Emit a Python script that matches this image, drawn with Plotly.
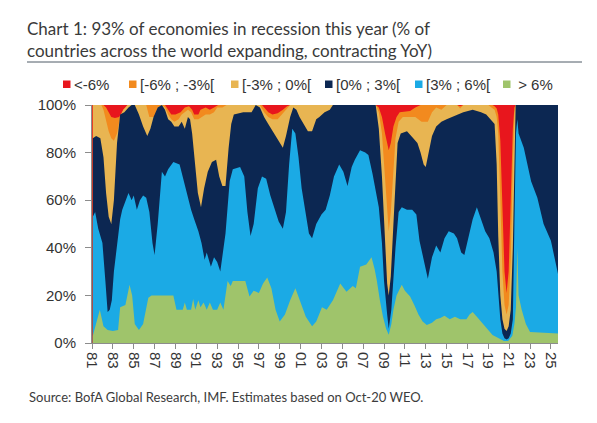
import plotly.graph_objects as go

# ---------------- data (share of countries, %, cumulative from the top of each growth bucket) -------------
# % of countries with YoY growth > 6%
years_gt6 = [1981.08, 1981.4, 1981.75, 1982.1, 1982.5, 1983.0, 1983.5, 1983.7, 1984.2, 1984.6,
             1984.85, 1985.1, 1985.5, 1985.9, 1986.4, 1986.7, 1988.8, 1989.1, 1989.7, 1989.9,
             1990.1, 1990.5, 1990.7, 1990.9, 1991.2, 1991.4, 1991.7, 1992.0, 1992.3, 1992.6,
             1993.0, 1993.3, 1993.6, 1994.0, 1994.3, 1994.5, 1995.7, 1996.1, 1996.5, 1997.0,
             1997.4, 1997.8, 1998.2, 1998.6, 1999.0, 1999.5, 2000.0, 2000.5, 2001.0, 2001.5,
             2002.1, 2002.5, 2003.05, 2003.5, 2004.1, 2004.8, 2005.4, 2006.0, 2006.3, 2006.7,
             2007.3, 2007.8, 2008.1, 2008.3, 2008.6, 2008.9, 2009.2, 2009.45, 2009.7, 2009.9,
             2010.2, 2010.7, 2011.0, 2011.5, 2011.9, 2012.3, 2012.7, 2013.1, 2013.6, 2014.0,
             2014.4, 2014.8, 2015.3, 2015.8, 2016.3, 2016.9, 2017.2, 2017.5, 2017.9, 2018.4,
             2018.9, 2019.4, 2020.0, 2020.5, 2020.9, 2021.3, 2021.5, 2021.65, 2021.78, 2021.9,
             2022.2, 2022.6, 2023.0, 2025.68]
pct_gt6 = [3, 8, 14, 7, 5.5, 5, 5.5, 15, 16, 24.5,
           20, 8, 5.5, 8, 19, 20, 20, 14, 14, 17,
           14, 14, 18.5, 14, 18, 15, 17, 14, 17, 14,
           14, 17, 14, 26, 24, 26, 26, 19.5, 22, 21,
           25, 27.5, 23, 14, 9, 12, 18, 23, 17, 11,
           7, 9, 15, 14, 18, 25, 21.5, 24, 23, 32,
           33, 36, 31, 26.5, 18, 11, 6, 3.5, 8, 14,
           20, 24.5, 22, 19.5, 16, 12, 9, 7.6, 8.5, 10,
           10.5, 11.5, 10, 11, 10, 10, 12, 13, 11, 8.4,
           6, 3.4, 2, 0.8, 0.8, 3, 8, 15, 40, 20,
           14, 8, 4.6, 4]

# % of countries with YoY growth >= 3%
years_gt3 = [1981.08, 1981.3, 1981.6, 1982.0, 1982.3, 1982.5, 1982.7, 1982.9, 1983.1, 1983.4,
             1983.7, 1983.9, 1984.2, 1984.5, 1984.8, 1985.0, 1985.3, 1985.6, 1985.9, 1986.2,
             1986.5, 1986.8, 1987.0, 1987.3, 1987.7, 1988.0, 1988.3, 1988.8, 1989.4, 1989.8,
             1990.1, 1990.5, 1990.8, 1991.2, 1991.5, 1991.8, 1992.0, 1992.4, 1992.7, 1993.0,
             1993.3, 1993.6, 1993.8, 1994.2, 1994.5, 1995.2, 1995.6, 1995.9, 1996.2, 1996.5,
             1996.9, 1997.3, 1997.7, 1998.1, 1998.5, 1998.9, 1999.3, 1999.6, 1999.9, 2000.2,
             2000.5, 2000.8, 2001.1, 2001.5, 2001.8, 2002.1, 2002.5, 2003.0, 2003.4, 2003.8,
             2004.2, 2004.7, 2005.1, 2005.5, 2005.9, 2006.2, 2006.7, 2007.2, 2007.5, 2007.9,
             2008.2, 2008.5, 2008.8, 2009.0, 2009.3, 2009.45, 2009.7, 2009.9, 2010.1, 2010.4,
             2010.7, 2011.2, 2011.7, 2012.1, 2012.4, 2012.8, 2013.2, 2013.6, 2014.0, 2014.4,
             2014.8, 2015.2, 2015.7, 2016.0, 2016.4, 2016.7, 2017.1, 2017.5, 2017.9, 2018.3,
             2018.7, 2019.1, 2019.5, 2019.8, 2019.95, 2020.15, 2020.35, 2020.55, 2020.75, 2020.95,
             2021.15, 2021.35, 2021.5, 2021.65, 2021.78, 2021.9, 2022.4, 2022.8, 2023.1, 2023.7,
             2024.3, 2025.0, 2025.3, 2025.68]
pct_gt3 = [53, 55, 48, 42, 25, 13, 14, 18, 30, 40,
           52, 56, 60, 63, 60, 62, 56, 60, 62, 61,
           55, 42, 37, 50, 72, 70, 73, 76, 75, 68,
           62, 56, 52, 47, 42, 35, 38, 32, 36, 34,
           30, 40, 46, 68, 73, 74, 70, 55, 45, 50,
           65, 70, 69, 62, 56, 51, 48, 55, 75, 90,
           88, 78, 65, 55, 46, 44, 50, 54, 56, 62,
           70, 75, 72, 66, 74, 77, 81, 80, 79, 71,
           64, 57, 42, 26, 12, 6, 14, 28, 40, 55,
           57, 56, 56, 54, 43, 35, 27, 36, 41, 38,
           44, 47, 46, 44, 38, 37, 44, 52, 57, 52,
           47, 44, 38, 30, 20, 10, 4, 2, 1.5, 2,
           4, 10, 50, 88, 94, 88, 82, 74, 68, 61,
           50, 43, 37, 29]

# % of countries with YoY growth >= 0%
years_gt0 = [1981.08, 1981.4, 1981.8, 1982.1, 1982.35, 1982.6, 1982.85, 1983.1, 1983.4, 1983.7,
             1984.1, 1984.5, 1984.8, 1985.1, 1985.5, 1985.9, 1986.3, 1986.6, 1986.9, 1987.3,
             1987.7, 1988.0, 1988.3, 1988.6, 1988.9, 1989.3, 1989.6, 1989.9, 1990.2, 1990.4,
             1990.6, 1990.85, 1991.15, 1991.45, 1991.75, 1992.1, 1992.5, 1992.9, 1993.2, 1993.5,
             1993.8, 1994.1, 1994.35, 1994.6, 1995.5, 1996.3, 1996.7, 1997.1, 1997.5, 1997.9,
             1998.3, 1998.7, 1999.0, 1999.3, 1999.6, 2000.0, 2000.3, 2000.6, 2000.9, 2001.3,
             2001.7, 2002.1, 2002.5, 2002.8, 2003.3, 2003.8, 2004.1, 2008.2, 2008.5, 2008.8,
             2009.1, 2009.3, 2009.45, 2009.65, 2009.9, 2010.1, 2010.3, 2010.6, 2011.2, 2011.8,
             2012.2, 2012.5, 2012.8, 2013.0, 2013.3, 2013.6, 2014.0, 2014.5, 2015.0, 2015.5,
             2016.0, 2016.6, 2017.5, 2018.3, 2018.8, 2019.2, 2019.6, 2019.8, 2019.95, 2020.15,
             2020.35, 2020.55, 2020.75, 2020.95, 2021.15, 2021.35, 2021.5, 2021.62, 2025.68]
pct_gt0 = [86, 87, 86, 78, 63, 53, 50, 60, 84, 96,
           97, 99, 100, 100, 96, 91, 87, 90, 95, 99,
           100, 98, 94, 93, 91, 91, 93, 90, 95, 94,
           88, 75, 63, 57, 65, 72, 76, 77, 70, 66,
           66, 82, 92, 96, 97, 97, 100, 99, 95, 92,
           89, 86, 84, 82, 87, 95, 99, 98, 95, 92,
           89, 89, 94, 95, 97, 98, 100, 100, 90, 70,
           40, 25, 20, 28, 50, 70, 84, 88, 89, 86,
           84, 80, 75, 74, 80, 87, 91, 93, 94, 95,
           96, 97, 98, 97, 96, 94, 92, 75, 45, 20,
           10, 6, 5, 7, 14, 40, 85, 100, 100]

# % of countries with YoY growth >= -3%
years_gtm3 = [1981.08, 1981.9, 1982.1, 1982.35, 1982.6, 1982.85, 1983.1, 1983.4, 1983.7, 1984.0,
              1984.4, 1986.2, 1986.5, 1987.0, 1987.3, 1987.7, 1988.0, 1988.3, 1988.6, 1988.9,
              1989.3, 1989.6, 1989.9, 1990.2, 1990.5, 1990.8, 1991.2, 1991.5, 1991.9, 1992.3,
              1992.7, 1993.0, 1993.5, 1993.9, 1997.1, 1997.5, 1997.9, 1998.3, 1998.8, 1999.2,
              1999.6, 2000.0, 2008.2, 2008.5, 2008.8, 2009.1, 2009.3, 2009.45, 2009.65, 2009.9,
              2010.1, 2010.4, 2010.8, 2011.5, 2012.0, 2012.6, 2013.2, 2013.6, 2014.0, 2014.5,
              2015.0, 2016.0, 2016.3, 2016.6, 2019.0, 2019.3, 2019.6, 2019.8, 2019.95, 2020.15,
              2020.35, 2020.55, 2020.75, 2020.95, 2021.15, 2021.35, 2021.5, 2021.62, 2025.68]
pct_gtm3 = [100, 100, 98, 93, 89, 86, 85, 88, 95, 98,
            100, 100, 95, 95, 99, 100, 99, 96, 94, 93,
            94, 96, 97, 98, 97, 94, 94, 95, 96, 96,
            97, 99, 99, 100, 100, 97, 95, 94, 94, 96,
            98, 100, 100, 97, 88, 70, 55, 47, 55, 75,
            86, 93, 95, 95, 95, 93, 93, 97, 99, 98,
            100, 100, 98.5, 100, 100, 99, 98, 95, 88, 60,
            30, 16, 12, 16, 35, 75, 96, 100, 100]

# % of countries with YoY growth >= -6%
years_gtm6 = [1981.08, 1982.1, 1982.35, 1982.6, 1982.85, 1983.2, 1983.6, 1984.0, 1984.3, 1984.5,
              1988.0, 1988.3, 1988.6, 1989.0, 1989.5, 1989.9, 1990.3, 1990.6, 1990.8, 1991.2,
              1991.4, 1991.9, 1992.3, 1992.7, 1993.1, 1997.3, 1997.6, 1997.9, 1998.3, 1998.8,
              1999.3, 1999.7, 2000.0, 2008.2, 2008.5, 2008.8, 2009.1, 2009.3, 2009.45, 2009.65,
              2009.9, 2010.2, 2010.5, 2011.5, 2012.0, 2012.5, 2016.0, 2016.3, 2016.6, 2019.4,
              2019.6, 2019.8, 2019.95, 2020.15, 2020.35, 2020.55, 2020.75, 2020.95, 2021.15, 2021.35,
              2021.5, 2021.62, 2025.68]
pct_gtm6 = [100, 100, 99, 97, 95, 94.5, 95, 98, 99, 100,
            100, 98, 96, 96, 97, 99, 99.5, 98, 96, 96,
            98, 99, 98, 99, 100, 100, 98.5, 97, 96, 96.5,
            98, 99.5, 100, 100, 99, 95, 88, 83, 81, 84,
            91, 95, 97, 97.5, 99, 100, 100, 99.5, 100, 100,
            99.5, 98.5, 96, 85, 55, 30, 21, 30, 60, 90,
            99, 100, 100]

# all countries (the remainder above the -6% line is the "<-6%" bucket)
years_all = [1981.0, 2025.68]
pct_all = [100, 100]

series_names = ["<-6%", "[-6% ; -3%[", "[-3% ; 0%[", "[0% ; 3%[", "[3% ; 6%[", "> 6%"]
series_colors = ["#E8161D", "#F28A1E", "#E8B552", "#0C2752", "#1BAAE5", "#9FC46B"]

tick_years = [1981, 1983, 1985, 1987, 1989, 1991, 1993, 1995, 1997, 1999, 2001, 2003,
              2005, 2007, 2009, 2011, 2013, 2015, 2017, 2019, 2021, 2023, 2025]
tick_labels = ["81", "83", "85", "87", "89", "91", "93", "95", "97", "99", "01", "03",
               "05", "07", "09", "11", "13", "15", "17", "19", "21", "23", "25"]
y_ticks = [0, 20, 40, 60, 80, 100]
y_labels = ["0%", "20%", "40%", "60%", "80%", "100%"]

# ---------------- figure ----------------
W, H = 597, 423
L, R, T, B = 92, 39, 105, 80
PW, PH = W - L - R, H - T - B


def px_x(p):
    return (p - L) / PW


def px_y(p):
    return (H - B - p) / PH


layers = [
    (years_all, pct_all),
    (years_gtm6, pct_gtm6),
    (years_gtm3, pct_gtm3),
    (years_gt0, pct_gt0),
    (years_gt3, pct_gt3),
    (years_gt6, pct_gt6),
]

fig = go.Figure()
for (xs, ys), name, col in zip(layers, series_names, series_colors):
    fig.add_trace(go.Scatter(x=xs, y=ys, name=name, mode="lines", line=dict(width=0, color=col),
                             fill="tozeroy", fillcolor=col, hoverinfo="skip", showlegend=False))

axis_font = dict(family="Liberation Sans, Arial, sans-serif", size=15, color="#333333")
fig.update_xaxes(range=[1981.0, 2025.68], tickmode="array", tickvals=tick_years, ticktext=tick_labels,
                 tickangle=90, ticks="outside", ticklen=5, tickcolor="#8c8c8c", showline=True,
                 linecolor="#8c8c8c", linewidth=1, showgrid=False, zeroline=False, tickfont=axis_font)
fig.update_yaxes(range=[0, 100], tickmode="array", tickvals=y_ticks, ticktext=y_labels,
                 ticks="outside", ticklen=6, tickcolor="#8c8c8c", showline=True, linecolor="#8c8c8c",
                 linewidth=1, showgrid=False, zeroline=False, tickfont=axis_font, ticklabelstandoff=6)

# legend drawn as real text with colour squares
legend_sq_x = [63, 129, 231, 325, 415, 503]
legend_txt = ["&lt;-6%", "[-6% ; -3%[", "[-3% ; 0%[", "[0% ; 3%[", "[3% ; 6%[", " &gt; 6%"]
shapes = []
annotations = []
for sx, txt, col in zip(legend_sq_x, legend_txt, series_colors):
    shapes.append(dict(type="rect", xref="paper", yref="paper", x0=px_x(sx), x1=px_x(sx + 7.5),
                       y0=px_y(88), y1=px_y(80.5), fillcolor=col, line=dict(width=0)))
    annotations.append(dict(xref="paper", yref="paper", x=px_x(sx + 8.5), y=px_y(84.5), text=txt,
                            showarrow=False, xanchor="left", yanchor="middle",
                            font=dict(family="Liberation Sans, Arial, sans-serif", size=15, color="#333333")))

# title rule
shapes.append(dict(type="line", xref="paper", yref="paper", x0=px_x(27), x1=px_x(582),
                   y0=px_y(62), y1=px_y(62), line=dict(color="#4f5b66", width=1)))

annotations.append(dict(xref="paper", yref="paper", x=px_x(27), y=px_y(397),
                        text="Source: BofA Global Research, IMF. Estimates based on Oct-20 WEO.",
                        showarrow=False, xanchor="left", yanchor="middle",
                        font=dict(family="Lato, sans-serif", size=13, color="#3c3c3c")))

fig.update_layout(
    width=W, height=H,
    margin=dict(l=L, r=R, t=T, b=B, pad=0),
    paper_bgcolor="white", plot_bgcolor="white",
    title=dict(text="Chart 1: 93% of economies in recession this year (% of<br>"
                    "countries across the world expanding, contracting YoY)",
               x=27 / W, xref="container", xanchor="left",
               y=1 - 35 / H, yref="container", yanchor="top",
               font=dict(family="Lato, sans-serif", size=17, color="#3a3a3a")),
    shapes=shapes, annotations=annotations, showlegend=False,
)

fig.write_html("out.html", config={"displayModeBar": False},
               post_script="document.body.style.margin='0';document.body.style.overflow='hidden';")
